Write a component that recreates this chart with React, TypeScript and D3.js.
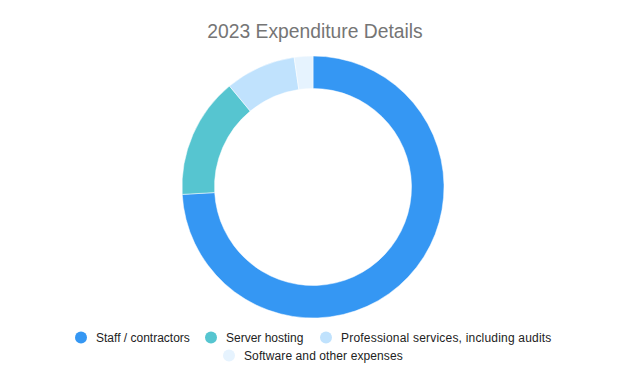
import React from "react";
import * as d3 from "d3";

const categories = [
  "Staff / contractors",
  "Server hosting",
  "Professional services, including audits",
  "Software and other expenses",
];
const values = [74.1, 14.9, 8.7, 2.3];
const colors = ["#3597f3", "#56c5d0", "#c0e2fd", "#e6f3fe"];
const title = "2023 Expenditure Details";

export default function App() {
  const width = 626;
  const height = 382;
  const cx = 313;
  const cy = 187;
  const outerR = 131;
  const innerR = 98.5;

  const pie = d3.pie<number>().sort(null).value((d) => d);
  const arcs = pie(values);
  const arc = d3.arc<d3.PieArcDatum<number>>().innerRadius(innerR).outerRadius(outerR);

  const legendRows = [
    [
      { i: 0, x: 81, ls: 0 },
      { i: 1, x: 211, ls: 0 },
      { i: 2, x: 326, ls: 0.2 },
    ],
    [{ i: 3, x: 229, ls: 0.1 }],
  ];
  const rowY = [337.5, 355.5];

  return (
    <svg
      width={width}
      height={height}
      style={{ position: "absolute", left: 0, top: 0, fontFamily: "Liberation Sans, Arial, sans-serif" }}
    >
      <rect width={width} height={height} fill="#ffffff" />
      <text x={315} y={37.5} textAnchor="middle" fontSize={19.3} fill="#757575">
        {title}
      </text>
      <g transform={`translate(${cx},${cy})`}>
        {arcs.map((a, i) => (
          <path key={i} d={arc(a) || ""} fill={colors[i]} stroke="#ffffff" strokeWidth={0.5} />
        ))}
      </g>
      {legendRows.map((row, r) =>
        row.map(({ i, x, ls }) => (
          <g key={i}>
            <circle cx={x} cy={rowY[r]} r={6} fill={colors[i]} />
            <text x={x + 15} y={rowY[r] + 4.3} fontSize={12} fill="#222222" letterSpacing={ls}>
              {categories[i]}
            </text>
          </g>
        ))
      )}
    </svg>
  );
}
